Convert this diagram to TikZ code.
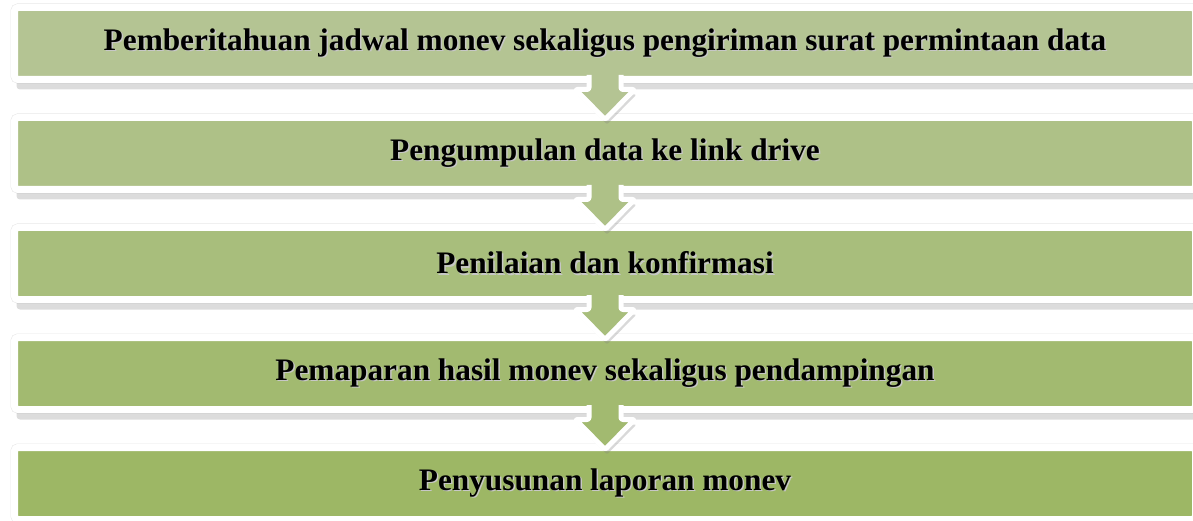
\documentclass[tikz,border=0pt]{standalone}
\usepackage{fontspec}
\setmainfont{Liberation Serif}
\usetikzlibrary{positioning,calc,shadows}
\definecolor{greenA}{RGB}{180,196,147}
\definecolor{greenB}{RGB}{174,193,135}
\definecolor{greenC}{RGB}{168,190,124}
\definecolor{greenD}{RGB}{162,186,112}
\definecolor{greenE}{RGB}{157,183,101}
\newcommand\shadowed[1]{\rlap{\kern1.5pt\raisebox{-1.5pt}{\color{black!22}#1}}#1}
\begin{document}
\begin{tikzpicture}[x=1pt, y=1pt,
    stage/.style={rectangle, draw=white, line width=7pt, rounded corners=3.5pt, minimum width=1181pt, minimum height=72pt, font=\fontsize{31.3}{36}\selectfont\bfseries, preaction={draw=black!10, line width=8pt}, drop shadow={shadow xshift=2pt, shadow yshift=-10pt, opacity=.28}},
    flowarrow/.style={draw=white, line width=5pt, rounded corners=2pt, line join=round, drop shadow={shadow xshift=2pt, shadow yshift=-5pt, opacity=.3}}]
        \useasboundingbox (0,0) rectangle (1193,520);

        \node[stage, fill=greenA] (b1) at (605,476.5) {\shadowed{Pemberitahuan jadwal monev sekaligus pengiriman surat permintaan data}};
        \node[stage, fill=greenB, below=31pt of b1] (b2) {\shadowed{Pengumpulan data ke link drive}};
        \node[stage, fill=greenC, below=31pt of b2] (b3) {\shadowed{Penilaian dan konfirmasi}};
        \node[stage, fill=greenD, below=31pt of b3] (b4) {\shadowed{Pemaparan hasil monev sekaligus pendampingan}};
        \node[stage, fill=greenE, below=31pt of b4] (b5) {\shadowed{Penyusunan laporan monev}};

        \draw[flowarrow, fill=greenA] ($(b1.south)+(-16,8)$) -- ++(0,-14.5) -- ++(-13.5,0) -- ($(b2.north)+(0,-5.5)$) -- ($(b1.south)+(29.5,-6.5)$) -- ++(-13.5,0) -- ++(0,14.5);
        \draw[flowarrow, fill=greenB] ($(b2.south)+(-16,8)$) -- ++(0,-14.5) -- ++(-13.5,0) -- ($(b3.north)+(0,-5.5)$) -- ($(b2.south)+(29.5,-6.5)$) -- ++(-13.5,0) -- ++(0,14.5);
        \draw[flowarrow, fill=greenC] ($(b3.south)+(-16,8)$) -- ++(0,-14.5) -- ++(-13.5,0) -- ($(b4.north)+(0,-5.5)$) -- ($(b3.south)+(29.5,-6.5)$) -- ++(-13.5,0) -- ++(0,14.5);
        \draw[flowarrow, fill=greenD] ($(b4.south)+(-16,8)$) -- ++(0,-14.5) -- ++(-13.5,0) -- ($(b5.north)+(0,-5.5)$) -- ($(b4.south)+(29.5,-6.5)$) -- ++(-13.5,0) -- ++(0,14.5);
\end{tikzpicture}
\end{document}
